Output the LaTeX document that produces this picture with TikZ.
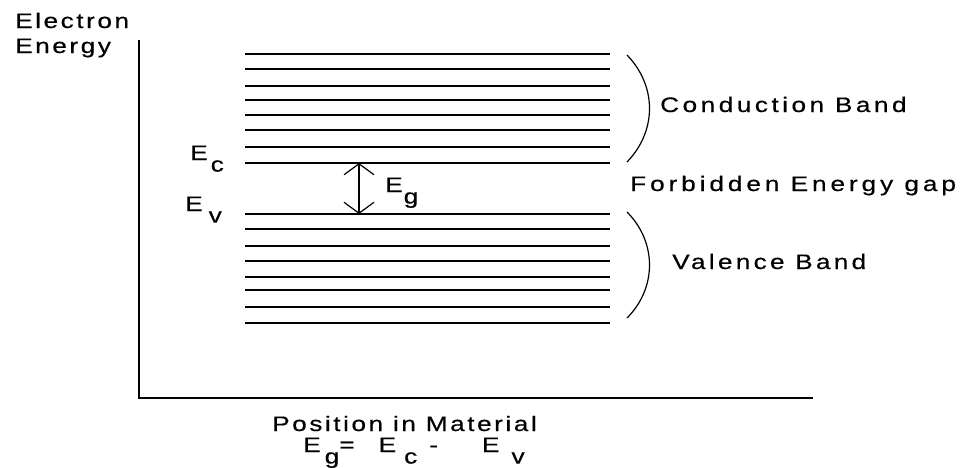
\documentclass[tikz,border=0pt]{standalone}
\usepackage{fontspec}
\setmainfont{Liberation Sans}[FakeStretch=1.25,LetterSpace=12,FakeBold=0.4]
\usepackage{graphicx}
\usetikzlibrary{arrows.meta}

\newcommand{\lo}[1]{\raisebox{-0.55em}{#1}}
\newcommand{\spaced}[1]{\addfontfeature{LetterSpace=#1}}

\begin{document}
\begin{tikzpicture}[x=1pt, y=-1pt, every node/.style={font=\fontsize{21}{25}\selectfont, inner sep=0pt},
  level/.style={black, line width=1.6pt},
  axis/.style={black, line width=2.6pt},
  bandbrace/.style={black, line width=1.2pt}]

\useasboundingbox (0,0) rectangle (971,467);

% Axes
\coordinate (ytop) at (139,40);
\coordinate (origin) at (139,398);
\coordinate (xend) at (813,398);
\draw[axis] (ytop) -- (origin) -- (xend);

% Draw energy levels
\foreach \y in {54,69,86,100,115,130,147,163} {
    \draw[level] (245,\y) -- (610,\y);   % conduction band
}
\foreach \y in {214,229,246,261,277,290,307,323} {
    \draw[level] (245,\y) -- (610,\y);   % valence band
}

% Gap arrow
\coordinate (gtop) at (359,163);
\coordinate (gbot) at (359,214);
\draw[black, line width=1.2pt, {Straight Barb[length=11pt,width=30pt]}-{Straight Barb[length=11pt,width=30pt]}] (gtop) -- (gbot);

% Brackets
\draw[bandbrace] (627,55) .. controls (657,86) and (657,131) .. (627,162);
\draw[bandbrace] (627,212) .. controls (657,242) and (657,288) .. (627,318);

% Labels
\node[anchor=base west, align=left] (ylabel) at (15,53) {Electron\\Energy};
\node[anchor=base west] (ec) at (190,160) {E\hspace{3pt}\lo{c}};
\node[anchor=base west] (ev) at (185,211) {E\hspace{6pt}\lo{v}};
\node[anchor=base west] (eg) at (385,192) {E\hspace{1pt}\lo{g}};
\node[anchor=base west] (cb) at (660,112) {\spaced{16.5}Conduction Band};
\node[anchor=base west] (gap) at (630,191) {\spaced{18.5}Forbidden Energy gap};
\node[anchor=base west] (vb) at (672,269) {\spaced{15.5}Valence Band};
\node[anchor=base west] (xlabel) at (272,431) {Position in Material};
\node[anchor=base west] (eqn) at (303,452) {E\hspace{4pt}\lo{g}\hspace{0pt}=\hspace{24pt}E\hspace{8pt}\lo{c}\hspace{12pt}-\hspace{44pt}E\hspace{12pt}\lo{v}};

\end{tikzpicture}
\end{document}
